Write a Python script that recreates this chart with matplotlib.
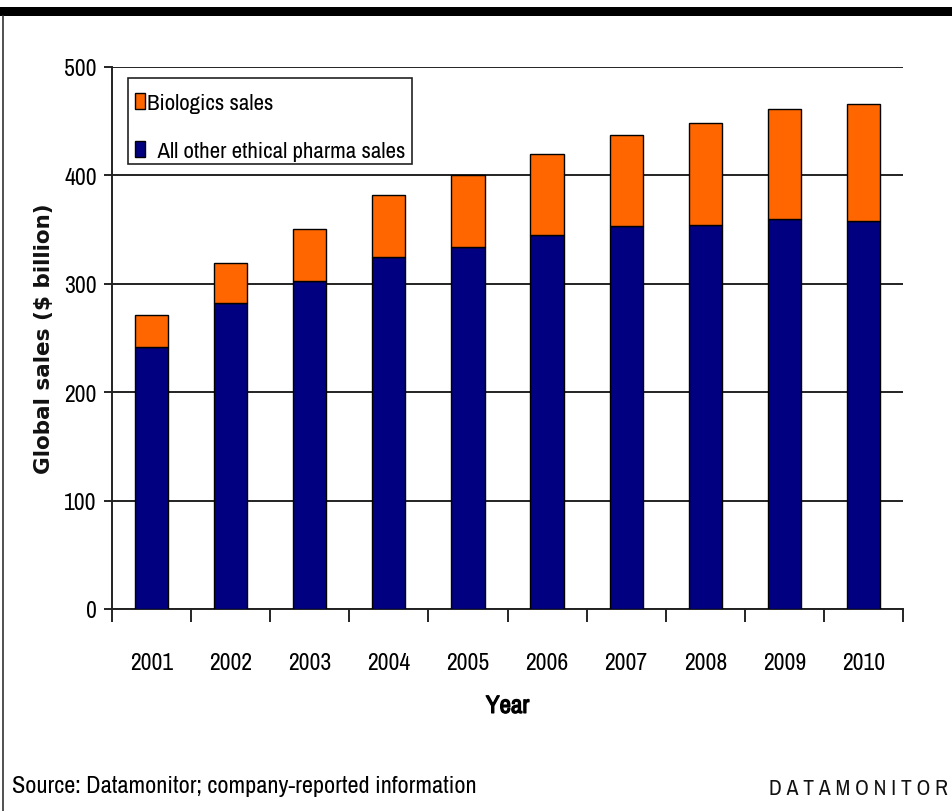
import numpy as np
import matplotlib
matplotlib.use("Agg")
import matplotlib.pyplot as plt
from matplotlib import font_manager
from matplotlib.patches import Rectangle
from matplotlib.lines import Line2D
import matplotlib.patheffects as pe

years = ["2001", "2002", "2003", "2004", "2005",
         "2006", "2007", "2008", "2009", "2010"]
other_sales = [242, 282, 303, 325, 334, 345, 353, 354, 360, 358]
biologics_sales = [29, 37, 48, 57, 66, 75, 84, 94, 101, 108]

NAVY = "#000080"
ORANGE = "#ff6600"

names = {f.name for f in font_manager.fontManager.ttflist}
narrow = "Archivo Narrow" if "Archivo Narrow" in names else "Liberation Sans"
bold_fx = [pe.withStroke(linewidth=0.9, foreground="black")]

W, H = 952, 812
fig = plt.figure(figsize=(W / 100, H / 100), dpi=100)


def px(x, y):
    # pixel position from the top-left corner -> figure fraction
    return x / W, 1 - y / H


# page frame: thick black band on top, thin line down the left side
fig.add_artist(Rectangle(px(0, 17), 1, 9 / H, transform=fig.transFigure,
                         color="black", lw=0))
fig.add_artist(Line2D([3 / W, 3 / W], [0, 1 - 17 / H], transform=fig.transFigure,
                      color="#333333", lw=1.2))

ax = fig.add_axes([112 / W, 1 - 610 / H, (903 - 112) / W, (610 - 68) / H])

x = np.arange(len(years))
w = 0.42
ax.bar(x, other_sales, w, color=NAVY, edgecolor="black", lw=1.0, zorder=3,
       label="  All other ethical pharma sales")
ax.bar(x, biologics_sales, w, bottom=other_sales, color=ORANGE, edgecolor="black",
       lw=1.0, zorder=3, label="Biologics sales")

ax.set_xlim(-0.5, len(years) - 0.5)
ax.set_ylim(0, 500)
ax.set_yticks(range(0, 501, 100))
ax.yaxis.grid(True, color="#222222", lw=1.4, zorder=1)
ax.set_axisbelow(True)

for s in ["top", "right"]:
    ax.spines[s].set_visible(False)
for s in ["left", "bottom"]:
    ax.spines[s].set_color("#222222")
    ax.spines[s].set_linewidth(1.4)

# category labels centred, tick marks on the boundaries
ax.set_xticks(np.arange(-0.5, len(years), 1.0))
ax.set_xticklabels([])
ax.set_xticks(x, minor=True)
ax.set_xticklabels(years, minor=True, fontfamily=narrow, fontsize=17)
ax.tick_params(axis="x", which="major", length=9, width=1.2, direction="out")
ax.tick_params(axis="x", which="minor", length=0, pad=31)
ax.tick_params(axis="y", length=6, width=1.2, pad=5)
for t in ax.get_yticklabels():
    t.set_fontfamily(narrow)
    t.set_fontsize(17)

ax.set_xlabel("Year", fontfamily=narrow, fontsize=18, labelpad=15, path_effects=bold_fx)
fig.text(*px(44, 339), "Global sales ($ billion)", rotation=90, ha="center",
         va="center", fontfamily="DejaVu Sans", fontweight="bold", fontsize=15.5,
         color="#111111")

# legend box drawn separately so the swatches can sit close to its edge
lx0, ly0 = px(128, 165)
lx1, ly1 = px(412, 79)
ax.add_patch(Rectangle((lx0, ly0), lx1 - lx0, ly1 - ly0, transform=fig.transFigure,
                       facecolor="white", edgecolor="#222222", lw=1.2,
                       zorder=4, clip_on=False))
handles, labels = ax.get_legend_handles_labels()
leg = ax.legend(handles[::-1], labels[::-1], loc="upper left",
                bbox_to_anchor=px(135, 94), bbox_transform=fig.transFigure,
                prop={"family": narrow, "size": 16.5}, frameon=False,
                handlelength=0.44, handleheight=0.7, handletextpad=0.1,
                labelspacing=1.23, borderpad=0, borderaxespad=0)
leg.set_zorder(5)

fig.text(*px(12, 787), "Source: Datamonitor; company-reported information",
         fontfamily=narrow, fontsize=17.5, va="center", ha="left")
fig.text(*px(769, 789), " ".join("DATAMONITOR"),
         fontfamily=narrow, fontsize=15.5, va="center", ha="left", color="#111111")

fig.savefig("out.png", dpi=100, facecolor="white")
